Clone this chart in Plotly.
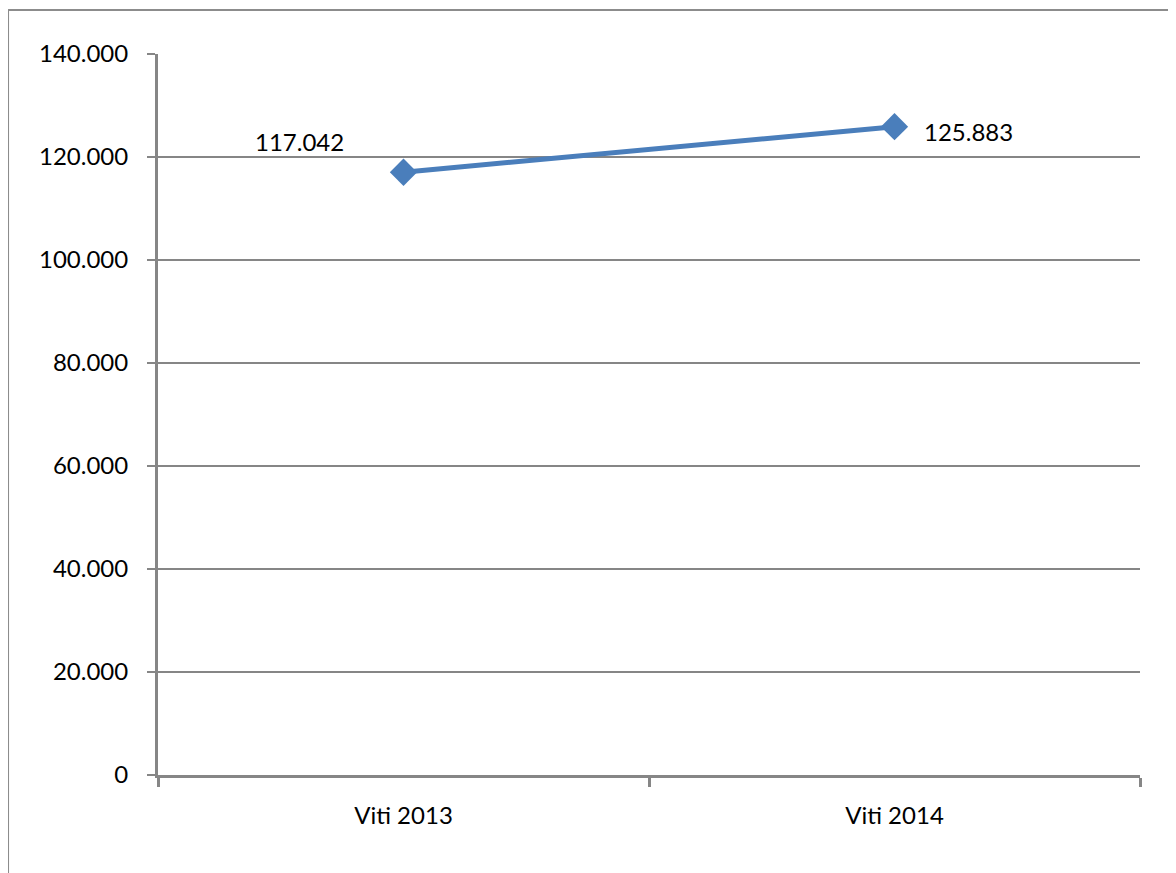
import plotly.graph_objects as go

categories = ["Viti 2013", "Viti 2014"]
values = [117042, 125883]
value_labels = ["117.042", "125.883"]
y_ticks = [0, 20000, 40000, 60000, 80000, 100000, 120000, 140000]

LINE_COLOR = "#4A7EBB"
GRID = "#868686"
FONT = "Lato, Carlito, 'Open Sans', sans-serif"

fig = go.Figure()
fig.add_trace(go.Scatter(
    x=categories, y=values, mode="lines+markers",
    line=dict(color=LINE_COLOR, width=5),
    marker=dict(symbol="diamond", size=21, color=LINE_COLOR),
    showlegend=False, hoverinfo="skip",
))

label_cfg = [dict(xanchor="right", xshift=-58, yshift=31),
             dict(xanchor="left", xshift=27, yshift=-5)]
for c, v, t, cfg in zip(categories, values, value_labels, label_cfg):
    fig.add_annotation(x=c, y=v, text=t, showarrow=False,
                       font=dict(size=24, color="black", family=FONT),
                       yanchor="middle", **cfg)

fig.update_layout(
    width=1176, height=873,
    margin=dict(l=150, r=44, t=46, b=106),
    paper_bgcolor="white", plot_bgcolor="white",
    separators=",.",
    font=dict(family=FONT, size=24, color="black"),
    xaxis=dict(
        type="category", range=[-0.5, 1.5], tickson="boundaries",
        ticks="outside", ticklen=9, tickwidth=3, tickcolor=GRID,
        showline=True, linecolor=GRID, linewidth=3,
        showgrid=False, zeroline=False, ticklabelstandoff=17,
    ),
    yaxis=dict(
        range=[0, 140000], tickvals=y_ticks, tickformat=",d",
        ticks="outside", ticklen=8, tickwidth=2, tickcolor=GRID,
        showline=True, linecolor=GRID, linewidth=3,
        showgrid=True, gridcolor=GRID, gridwidth=2,
        zeroline=False, ticklabelstandoff=14,
    ),
    shapes=[
        dict(type="line", xref="paper", yref="paper",
             x0=-0.1527, x1=-0.1527, y0=1.061, y1=-0.25,
             line=dict(color="#8c8c8c", width=2)),
        dict(type="line", xref="paper", yref="paper",
             x0=-0.1527, x1=1.1, y0=1.061, y1=1.061,
             line=dict(color="#8c8c8c", width=2)),
    ],
)

fig.write_html("out.html")
